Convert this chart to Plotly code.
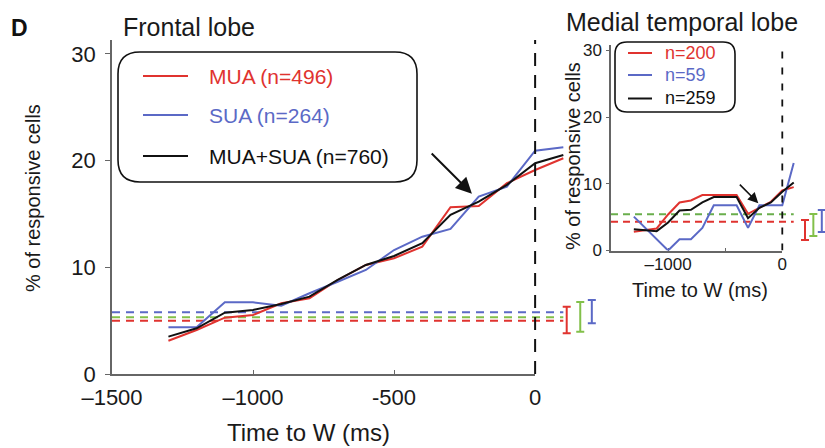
import plotly.graph_objects as go

W, H = 825, 448

# ---------------- data ----------------
times = [-1300, -1200, -1100, -1000, -900, -800, -700, -600, -500, -400, -300, -200, -100, 0, 100]

# Frontal lobe (% responsive cells)
frontal_mua = [3.12, 4.12, 5.28, 5.53, 6.63, 7.10, 8.81, 10.22, 10.85, 11.93, 15.63, 15.75, 17.88, 19.12, 20.22]
frontal_sua = [4.38, 4.38, 6.72, 6.72, 6.40, 7.57, 8.65, 9.75, 11.62, 12.87, 13.59, 16.62, 17.56, 20.93, 21.25]
frontal_all = [3.50, 4.28, 5.75, 6.00, 6.56, 7.25, 8.81, 10.22, 11.06, 12.25, 14.91, 16.15, 17.72, 19.75, 20.53]

# Medial temporal lobe
mtl_mua = [2.8, 3.0, 3.3, 5.4, 7.2, 7.5, 8.3, 8.3, 8.3, 8.3, 5.5, 6.4, 7.3, 9.0, 9.5]
mtl_sua = [5.08, 3.39, 1.69, 0.0, 1.69, 1.69, 3.39, 6.78, 6.78, 6.78, 3.39, 6.78, 6.78, 6.78, 13.1]
mtl_all = [3.2, 3.0, 2.9, 4.2, 6.0, 6.1, 7.2, 8.0, 8.0, 8.0, 4.85, 6.4, 7.2, 8.8, 10.2]

# chance levels (dashed) and their confidence intervals (I bars): red, green, blue
frontal_chance = [5.0, 5.31, 5.78]
frontal_ci_low = [3.82, 3.97, 4.75]
frontal_ci_high = [6.31, 6.75, 6.94]
mtl_chance = [4.3, 5.45]
mtl_ci_low = [1.57, 2.17, 2.77]
mtl_ci_high = [4.57, 5.47, 6.07]

frontal_labels = ["MUA (n=496)", "SUA (n=264)", "MUA+SUA (n=760)"]
mtl_labels = ["n=200", "n=59", "n=259"]
x_ticks_main = [-1500, -1000, -500, 0]
x_ticktext_main = ["\u20131500", "\u20131000", "-500", "0"]
x_ticks_mtl = [-1000, -500, 0]
x_ticktext_mtl = ["\u20131000", "", "0"]
y_ticks = [0, 10, 20, 30]

# ---------------- style ----------------
RED = "#e0332f"
BLUE = "#5b69c6"
BLACK = "#111111"
GREEN = "#82c04a"
CHANCE_COLORS = [RED, GREEN, BLUE]
AX = "#666666"
FONT = "Liberation Sans"


def px(x):
    return x / W


def py(y):
    return 1 - y / H


fig = go.Figure()

# empty traces so that the visible frame axes get their subplots
fig.add_trace(go.Scatter(x=[], y=[], xaxis="x", yaxis="y", showlegend=False, hoverinfo="skip"))
fig.add_trace(go.Scatter(x=[], y=[], xaxis="x3", yaxis="y3", showlegend=False, hoverinfo="skip"))

# main chance lines
for lvl, col in zip(frontal_chance, CHANCE_COLORS):
    fig.add_trace(go.Scatter(x=[-1500, 100], y=[lvl, lvl], mode="lines",
                             line=dict(color=col, width=2, dash="8px,6px"),
                             xaxis="x2", yaxis="y", showlegend=False))

# main curves on wide invisible axis x2
for vals, col, name in [(frontal_mua, RED, frontal_labels[0]),
                        (frontal_sua, BLUE, frontal_labels[1]),
                        (frontal_all, BLACK, frontal_labels[2])]:
    fig.add_trace(go.Scatter(x=times, y=vals, mode="lines", name=name,
                             line=dict(color=col, width=2), xaxis="x2", yaxis="y",
                             showlegend=False))

# main CI bars
main_ci_x = [112, 160, 201]
for i, col in enumerate(CHANCE_COLORS):
    mid = (frontal_ci_low[i] + frontal_ci_high[i]) / 2
    fig.add_trace(go.Scatter(
        x=[main_ci_x[i]], y=[mid], mode="markers", marker=dict(size=1, opacity=0),
        error_y=dict(type="data", symmetric=False,
                     array=[frontal_ci_high[i] - mid], arrayminus=[mid - frontal_ci_low[i]],
                     color=col, thickness=2, width=4),
        xaxis="x2", yaxis="y", showlegend=False, cliponaxis=False))

# inset chance lines
for lvl, col in zip(mtl_chance, [RED, "#6aae4c"]):
    fig.add_trace(go.Scatter(x=[-1500, 100], y=[lvl, lvl], mode="lines",
                             line=dict(color=col, width=2, dash="7px,5px"),
                             xaxis="x4", yaxis="y3", showlegend=False))

# inset curves
for vals, col, name in [(mtl_mua, RED, mtl_labels[0]),
                        (mtl_sua, BLUE, mtl_labels[1]),
                        (mtl_all, BLACK, mtl_labels[2])]:
    fig.add_trace(go.Scatter(x=times, y=vals, mode="lines", name=name,
                             line=dict(color=col, width=2), xaxis="x4", yaxis="y3",
                             showlegend=False))

mtl_ci_x = [199, 272, 346]
for i, col in enumerate(CHANCE_COLORS):
    mid = (mtl_ci_low[i] + mtl_ci_high[i]) / 2
    fig.add_trace(go.Scatter(
        x=[mtl_ci_x[i]], y=[mid], mode="markers", marker=dict(size=1, opacity=0),
        error_y=dict(type="data", symmetric=False,
                     array=[mtl_ci_high[i] - mid], arrayminus=[mid - mtl_ci_low[i]],
                     color=col, thickness=2, width=4),
        xaxis="x4", yaxis="y3", showlegend=False, cliponaxis=False))

# ---------------- axes ----------------
tickfont_main = dict(family=FONT, size=22, color="#1a1a1a")
tickfont_mtl = dict(family=FONT, size=17, color="#1a1a1a")

fig.update_layout(
    width=W, height=H, margin=dict(l=0, r=0, t=0, b=0, autoexpand=False),
    paper_bgcolor="white", plot_bgcolor="rgba(0,0,0,0)",
    showlegend=False,
    xaxis=dict(domain=[px(112), px(535)], range=[-1500, 0], anchor="y", automargin=False,
               tickvals=x_ticks_main, ticktext=x_ticktext_main, tickfont=tickfont_main,
               ticks="inside", ticklen=4, tickcolor=AX, showline=True, linecolor=AX,
               linewidth=1.5, showgrid=False, zeroline=False, ticklabelstandoff=3),
    yaxis=dict(domain=[py(374), py(40)], range=[0, 31.3], anchor="x", automargin=False,
               tickvals=y_ticks, tickfont=tickfont_main,
               ticks="outside", ticklen=5, tickcolor=AX, showline=True, linecolor=AX,
               linewidth=1.5, showgrid=False, zeroline=False, ticklabelstandoff=5),
    xaxis2=dict(domain=[px(112), px(600)], range=[-1500, 230], anchor="y", visible=False,
                automargin=False),
    xaxis3=dict(domain=[px(611), px(782.3)], range=[-1500, 0], anchor="y3", automargin=False,
                tickvals=x_ticks_mtl, ticktext=x_ticktext_mtl, tickfont=tickfont_mtl,
                ticks="inside", ticklen=3, tickcolor=AX, showline=True, linecolor=AX,
                linewidth=1.5, showgrid=False, zeroline=False, ticklabelstandoff=-3),
    yaxis3=dict(domain=[py(250.5), py(45)], range=[0, 30.8], anchor="x3", automargin=False,
                tickvals=y_ticks, tickfont=tickfont_mtl,
                ticks="outside", ticklen=3, tickcolor=AX, showline=True, linecolor=AX,
                linewidth=1.5, showgrid=False, zeroline=False, ticklabelstandoff=1),
    xaxis4=dict(domain=[px(611), 1.0], range=[-1500, 374], anchor="y3", visible=False,
                automargin=False),
)

# ---------------- shapes ----------------
shapes = []
shapes.append(dict(type="line", xref="x2", yref="y", x0=0, x1=0, y0=0, y1=31.3,
                   line=dict(color=BLACK, width=2, dash="13px,9px")))
shapes.append(dict(type="line", xref="x4", yref="y3", x0=0, x1=0, y0=0, y1=30.8,
                   line=dict(color=BLACK, width=1.8, dash="7px,9px")))


def rrect(x0, y0, x1, y1, r):
    pts = (f"M {px(x0 + r)},{py(y0)} L {px(x1 - r)},{py(y0)} "
           f"Q {px(x1)},{py(y0)} {px(x1)},{py(y0 + r)} L {px(x1)},{py(y1 - r)} "
           f"Q {px(x1)},{py(y1)} {px(x1 - r)},{py(y1)} L {px(x0 + r)},{py(y1)} "
           f"Q {px(x0)},{py(y1)} {px(x0)},{py(y1 - r)} L {px(x0)},{py(y0 + r)} "
           f"Q {px(x0)},{py(y0)} {px(x0 + r)},{py(y0)} Z")
    return dict(type="path", xref="paper", yref="paper", path=pts,
                line=dict(color=BLACK, width=1.6), fillcolor="rgba(0,0,0,0)")


shapes.append(rrect(118, 52, 417, 182, 22))
shapes.append(rrect(615, 42, 735, 112, 12))

annotations = []
for lab, col, yy in zip(frontal_labels, [RED, BLUE, BLACK], [76, 115, 156]):
    shapes.append(dict(type="line", xref="paper", yref="paper", x0=px(143), x1=px(188),
                       y0=py(yy), y1=py(yy), line=dict(color=col, width=2)))
    annotations.append(dict(text=lab, x=px(207), y=py(yy), xanchor="left", yanchor="middle",
                            font=dict(family=FONT, size=21, color=col)))
for lab, col, yy in zip(mtl_labels, [RED, BLUE, BLACK], [53, 75, 98.5]):
    shapes.append(dict(type="line", xref="paper", yref="paper", x0=px(628), x1=px(652),
                       y0=py(yy), y1=py(yy), line=dict(color=col, width=2)))
    annotations.append(dict(text=lab, x=px(663), y=py(yy), xanchor="left", yanchor="middle",
                            font=dict(family=FONT, size=18, color=col)))

annotations += [
    dict(text="<b>D</b>", x=px(9), y=py(28), xanchor="left", yanchor="middle",
         font=dict(family=FONT, size=23, color=BLACK)),
    dict(text="Frontal lobe", x=px(121), y=py(27), xanchor="left", yanchor="middle",
         font=dict(family=FONT, size=25, color="#1a1a1a")),
    dict(text="Medial temporal lobe", x=px(682), y=py(22), xanchor="center", yanchor="middle",
         font=dict(family=FONT, size=25, color="#1a1a1a")),
    dict(text="% of responsive cells", x=px(33), y=py(198), textangle=-90,
         xanchor="center", yanchor="middle", font=dict(family=FONT, size=20, color="#1a1a1a")),
    dict(text="Time to W (ms)", x=px(308), y=py(432), xanchor="center", yanchor="middle",
         font=dict(family=FONT, size=24, color="#1a1a1a")),
    dict(text="% of responsive cells", x=px(573), y=py(156), textangle=-90,
         xanchor="center", yanchor="middle", font=dict(family=FONT, size=20, color="#1a1a1a")),
    dict(text="Time to W (ms)", x=px(700), y=py(290), xanchor="center", yanchor="middle",
         font=dict(family=FONT, size=20, color="#1a1a1a")),
]
for a in annotations:
    a.setdefault("xref", "paper")
    a.setdefault("yref", "paper")
    a.setdefault("showarrow", False)

annotations.append(dict(x=-224, y=16.9, ax=-372, ay=20.8, xref="x2", yref="y",
                        axref="x2", ayref="y", text="", showarrow=True,
                        arrowhead=2, arrowsize=1.6, arrowwidth=2, arrowcolor=BLACK))
annotations.append(dict(x=-210, y=7.1, ax=-385, ay=10.1, xref="x4", yref="y3",
                        axref="x4", ayref="y3", text="", showarrow=True,
                        arrowhead=2, arrowsize=1.3, arrowwidth=1.6, arrowcolor=BLACK))

fig.update_layout(shapes=shapes, annotations=annotations)
fig.write_html("out.html")
